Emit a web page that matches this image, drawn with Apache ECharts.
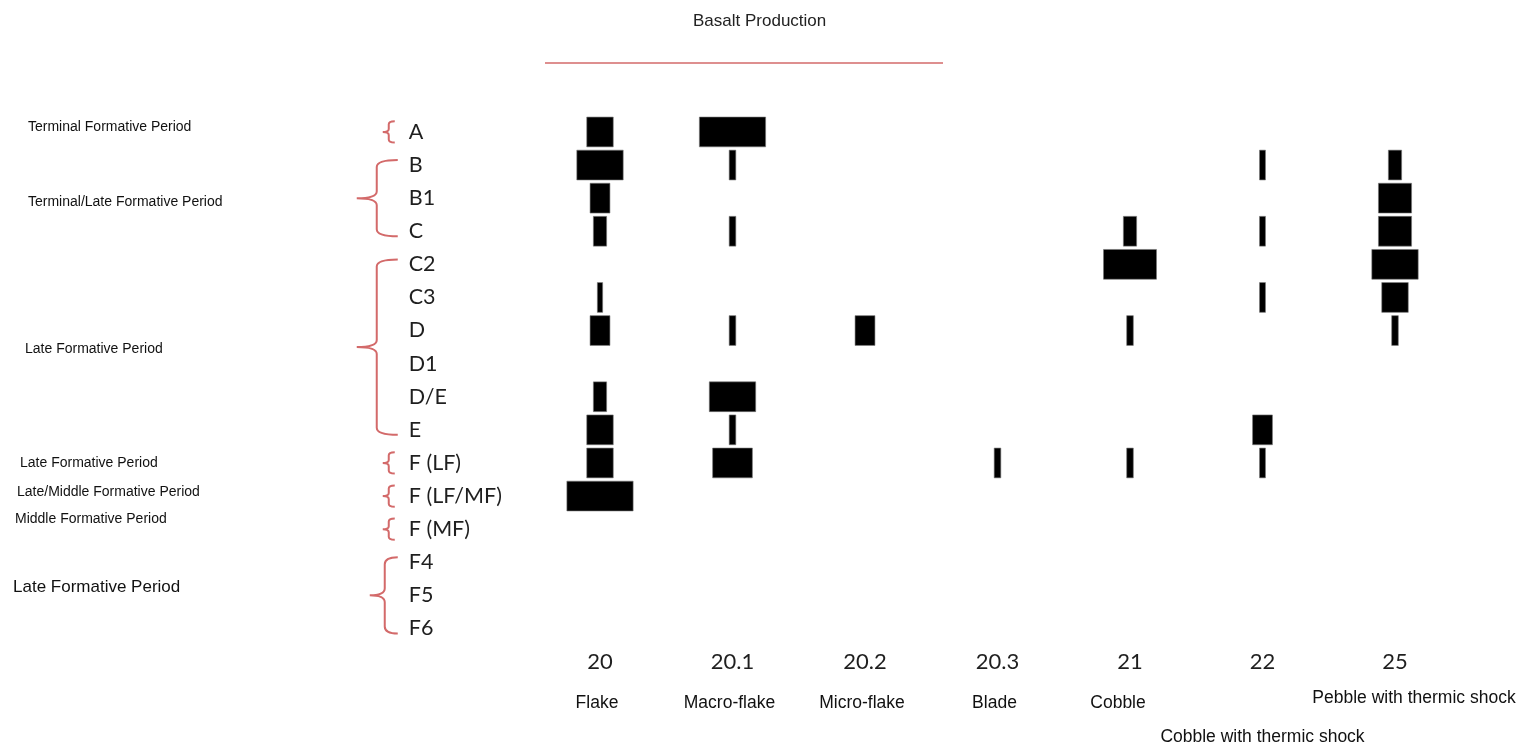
<!DOCTYPE html>
<html lang="en">
<head>
<meta charset="UTF-8">
<title>Basalt Production</title>
<script src="https://cdn.jsdelivr.net/npm/echarts@6.0.0/dist/echarts.min.js"></script>
<style>
  html, body { margin: 0; padding: 0; background: #fff; }
  #chart { width: 1532px; height: 749px; }
</style>
</head>
<body>
<div id="chart"></div>
<script>
    // rows of the stratigraphy (top to bottom)
    var levels = ['A', 'B', 'B1', 'C', 'C2', 'C3', 'D', 'D1', 'D/E', 'E', 'F (LF)', 'F (LF/MF)', 'F (MF)', 'F4', 'F5', 'F6'];
    var codes = ['20', '20.1', '20.2', '20.3', '21', '22', '25'];
    var types = ['Flake', 'Macro-flake', 'Micro-flake', 'Blade', 'Cobble', 'Cobble with thermic shock', 'Pebble with thermic shock'];

    // counts per level, one array per artefact type
    var flake      = [4, 7, 3, 2, 0, 0.8, 3, 0, 2, 4, 4, 10, 0, 0, 0, 0];
    var macroFlake = [10, 1, 0, 1, 0, 0, 1, 0, 7, 1, 6, 0, 0, 0, 0, 0];
    var microFlake = [0, 0, 0, 0, 0, 0, 3, 0, 0, 0, 0, 0, 0, 0, 0, 0];
    var blade      = [0, 0, 0, 0, 0, 0, 0, 0, 0, 0, 1, 0, 0, 0, 0, 0];
    var cobble     = [0, 0, 0, 2, 8, 0, 1, 0, 0, 0, 1, 0, 0, 0, 0, 0];
    var cobbleTS   = [0, 0.9, 0, 0.9, 0, 0.9, 0, 0, 0, 3, 0.9, 0, 0, 0, 0, 0];
    var pebbleTS   = [0, 2, 5, 5, 7, 4, 1, 0, 0, 0, 0, 0, 0, 0, 0, 0];

    // periods and the levels they group
    var periodNames = ['Terminal Formative Period', 'Terminal/Late Formative Period', 'Late Formative Period',
        'Late Formative Period', 'Late/Middle Formative Period', 'Middle Formative Period', 'Late Formative Period'];
    var periodFrom = [0, 1, 4, 10, 11, 12, 13];
    var periodTo   = [0, 3, 9, 10, 11, 12, 15];

    // layout of the brace annotations (offsets from grid left / row centre)
    var braceLayout = [
        {xr: -139, xv: -145, xp: -151, tx: 28, dy: -5, fs: 14},
        {xr: -136, xv: -157, xp: -177, tx: 28, dy: 4, fs: 14},
        {xr: -136, xv: -157, xp: -177, tx: 25, dy: 2, fs: 14},
        {xr: -139, xv: -145, xp: -151, tx: 20, dy: 0, fs: 14},
        {xr: -139, xv: -145, xp: -151, tx: 17, dy: -4, fs: 14},
        {xr: -139, xv: -145, xp: -151, tx: 15, dy: -10, fs: 14},
        {xr: -136, xv: -149, xp: -164, tx: 13, dy: -8, fs: 17}
    ];

    var UNITS_PER_COLUMN = 20;
    var columns = [flake, macroFlake, microFlake, blade, cobble, cobbleTS, pebbleTS];

    var barData = [];
    columns.forEach(function (col, ci) {
        col.forEach(function (v, ri) {
            if (v > 0) barData.push([ci, ri, v]);
        });
    });

    var braceData = periodNames.map(function (n, i) {
        return [0, periodFrom[i], periodTo[i], i];
    });

    var chart = echarts.init(document.getElementById('chart'));
    var RED = '#d36a6a';
    var nameFont = {fontFamily: 'Liberation Sans', fontSize: 17.5, color: '#111'};

    var option = {
        animation: false,
        title: {
            text: 'Basalt Production',
            left: 688,
            top: 8,
            textStyle: {fontFamily: 'Liberation Sans', fontSize: 17, fontWeight: 'normal', color: '#222'}
        },
        graphic: [{
            type: 'line',
            shape: {x1: 545, y1: 63, x2: 943, y2: 63},
            style: {stroke: RED, lineWidth: 1.5}
        }],
        grid: {
            left: 533.75, top: 115.4, width: 927.5, height: 529.6,
            containLabel: false, outerBoundsMode: 'none'
        },
        xAxis: [{
            type: 'category',
            data: codes,
            axisLine: {show: false},
            axisTick: {show: false},
            splitLine: {show: false},
            axisLabel: {
                interval: 0, margin: 6,
                fontFamily: 'Lato', fontSize: 22, color: '#1f1f1f'
            }
        }, {
            type: 'category',
            data: types,
            position: 'bottom',
            offset: 36,
            axisLine: {show: false},
            axisTick: {show: false},
            axisLabel: {
                interval: 0, margin: 8,
                formatter: function (v, i) {
                    if (i === 4) return '{left|' + v + '}';
                    if (i === 5) return '{low|' + v + '}';
                    if (i === 6) return '{shift|' + v + '}';
                    return '{n|' + v + '}';
                },
                rich: {
                    n: Object.assign({padding: [5, 6, 0, 0]}, nameFont),
                    left: Object.assign({padding: [5, 24, 0, 0]}, nameFont),
                    low: Object.assign({padding: [39, 0, 0, 0]}, nameFont),
                    shift: Object.assign({padding: [0, 0, 0, 38]}, nameFont)
                }
            }
        }],
        yAxis: {
            type: 'category',
            data: levels,
            inverse: true,
            axisLine: {show: false},
            axisTick: {show: false},
            splitLine: {show: false},
            axisLabel: {
                interval: 0, margin: 125, align: 'left',
                fontFamily: 'Lato', fontSize: 21.5, color: '#1f1f1f'
            }
        },
        series: [{
            type: 'custom',
            name: 'counts',
            data: barData,
            encode: {x: 0, y: 1},
            renderItem: function (params, api) {
                var c = api.coord([api.value(0), api.value(1)]);
                var band = api.size([1, 1]);
                var w = api.value(2) / UNITS_PER_COLUMN * band[0];
                var h = band[1] * 0.9;
                return {
                    type: 'rect',
                    shape: {x: c[0] - w / 2, y: c[1] - h / 2, width: w, height: h},
                    style: {fill: '#000', stroke: '#777', lineWidth: 0.6}
                };
            }
        }, {
            type: 'custom',
            name: 'periods',
            data: braceData,
            encode: {x: 0, y: [1, 2]},
            clip: false,
            silent: true,
            renderItem: function (params, api) {
                var i = api.value(3);
                var L = braceLayout[i];
                var band = api.size([1, 1])[1];
                var gx = params.coordSys.x;
                var y1 = api.coord([0, api.value(1)])[1];
                var y2 = api.coord([0, api.value(2)])[1];
                var single = api.value(1) === api.value(2);
                var top = y1 - band * (single ? 0.32 : 0.15);
                var bot = y2 + band * (single ? 0.32 : 0.15);
                var mid = (y1 + y2) / 2;
                var xr = gx + L.xr, xv = gx + L.xv, xp = gx + L.xp;
                var r = single ? 3 : 7;
                var d = 'M' + xr + ' ' + top +
                    ' Q' + xv + ' ' + top + ' ' + xv + ' ' + (top + r) +
                    ' L' + xv + ' ' + (mid - r) +
                    ' Q' + xv + ' ' + mid + ' ' + xp + ' ' + mid +
                    ' Q' + xv + ' ' + mid + ' ' + xv + ' ' + (mid + r) +
                    ' L' + xv + ' ' + (bot - r) +
                    ' Q' + xv + ' ' + bot + ' ' + xr + ' ' + bot;
                return {
                    type: 'group',
                    children: [{
                        type: 'path',
                        shape: {pathData: d},
                        style: {fill: 'none', stroke: RED, lineWidth: 2}
                    }, {
                        type: 'text',
                        x: L.tx,
                        y: mid + L.dy,
                        style: {
                            text: periodNames[i],
                            fontFamily: 'Liberation Sans',
                            fontSize: L.fs,
                            fill: '#111',
                            verticalAlign: 'middle'
                        }
                    }]
                };
            }
        }]
    };

    chart.setOption(option);
</script>
</body>
</html>
